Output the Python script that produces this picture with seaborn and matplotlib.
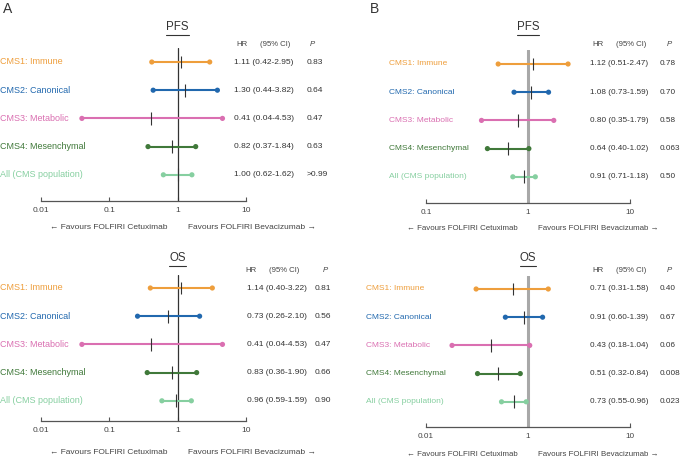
import numpy as np
import pandas as pd
import matplotlib.pyplot as plt
import matplotlib.transforms as mtransforms
from matplotlib.lines import Line2D
import seaborn as sns

sns.set_style('white')
plt.rcParams['font.family'] = ['Liberation Sans', 'DejaVu Sans']

# data ==========================================================================
groups = ['CMS1: Immune', 'CMS2: Canonical', 'CMS3: Metabolic', 'CMS4: Mesenchymal', 'All (CMS population)']
colors = ['#EE9E3C', '#2168AE', '#DA6FB1', '#40793A', '#86CFA0']

a_pfs_hr = [1.11, 1.30, 0.41, 0.82, 1.00]
a_pfs_lo = [0.42, 0.44, 0.04, 0.37, 0.62]
a_pfs_hi = [2.95, 3.82, 4.53, 1.84, 1.62]
a_pfs_p = ['0.83', '0.64', '0.47', '0.63', '>0.99']

a_os_hr = [1.14, 0.73, 0.41, 0.83, 0.96]
a_os_lo = [0.40, 0.26, 0.04, 0.36, 0.59]
a_os_hi = [3.22, 2.10, 4.53, 1.90, 1.59]
a_os_p = ['0.81', '0.56', '0.47', '0.66', '0.90']

b_pfs_hr = [1.12, 1.08, 0.80, 0.64, 0.91]
b_pfs_lo = [0.51, 0.73, 0.35, 0.40, 0.71]
b_pfs_hi = [2.47, 1.59, 1.79, 1.02, 1.18]
b_pfs_p = ['0.78', '0.70', '0.58', '0.063', '0.50']

b_os_hr = [0.71, 0.91, 0.43, 0.51, 0.73]
b_os_lo = [0.31, 0.60, 0.18, 0.32, 0.55]
b_os_hi = [1.58, 1.39, 1.04, 0.84, 0.96]
b_os_p = ['0.40', '0.67', '0.06', '0.008', '0.023']

a_ticks = [0.01, 0.1, 1, 10]
a_ticklabels = ['0.01', '0.1', '1', '10']
b_pfs_ticks = [0.1, 1, 10]
b_pfs_ticklabels = ['0.1', '1', '10']
b_os_ticks = [0.1, 1, 10]
b_os_ticklabels = ['0.01', '1', '10']

W, H = 683, 457
fig = plt.figure(figsize=(W / 100, H / 100), dpi=100)
renderer = fig.canvas.get_renderer()


def fx(x):
    return x / W


def fy(y):
    return 1 - y / H


def forest(title, hr, lo, hi, p, ticks, ticklabels, left, right, top, axis_y, row0,
           lab_x, val_x, p_x, hdr_x, title_y, hdr_y, fav_y, ref_color, ref_lw,
           fs_lab, fs_val, fs_fav, step=28.2):
    ax = fig.add_axes([fx(left), fy(axis_y), (right - left) / W, (axis_y - top) / H])
    ax.set_xscale('log')
    ax.set_xlim(ticks[0], ticks[-1])
    ax.set_ylim((axis_y - row0) / step, (top - row0) / step)

    df = pd.DataFrame({'group': groups, 'hr': hr, 'lo': lo, 'hi': hi, 'row': range(len(groups))})
    ax.axvline(1, color=ref_color, lw=ref_lw, zorder=1)
    for i, r in df.iterrows():
        ax.hlines(r['row'], r['lo'], r['hi'], color=colors[i], lw=1.5, zorder=2)
        ax.vlines(r['hr'], r['row'] - 0.23, r['row'] + 0.23, color='#333333', lw=0.8, zorder=3)
    ends = pd.concat([df[['group', 'lo', 'row']].rename(columns={'lo': 'x'}),
                      df[['group', 'hi', 'row']].rename(columns={'hi': 'x'})])
    sns.scatterplot(data=ends, x='x', y='row', hue='group', palette=colors, s=14,
                    edgecolor='none', legend=False, ax=ax, zorder=4)

    for s in ['top', 'left', 'right']:
        ax.spines[s].set_visible(False)
    ax.spines['bottom'].set_color('#555555')
    ax.spines['bottom'].set_linewidth(0.9)
    ax.set_xticks(ticks)
    ax.set_xticklabels(ticklabels)
    ax.minorticks_off()
    ax.tick_params(axis='x', direction='in', length=3, width=0.8, color='#555555',
                   labelsize=fs_val, labelcolor='#444444', pad=4, bottom=True)
    ax.set_yticks([])
    ax.set_xlabel('')
    ax.set_ylabel('')

    tr = mtransforms.blended_transform_factory(fig.transFigure, ax.transData)
    for i in range(len(groups)):
        ax.text(fx(lab_x), i, groups[i], transform=tr, color=colors[i], fontsize=fs_lab,
                va='center', ha='left')
        ax.text(fx(val_x), i, f'{hr[i]:.2f} ({lo[i]:.2f}-{hi[i]:.2f})', transform=tr,
                color='#333333', fontsize=fs_val, va='center', ha='left')
        ax.text(fx(p_x), i, p[i], transform=tr, color='#333333', fontsize=fs_val,
                va='center', ha='left')

    xc = ax.transData.transform((1, 0))[0] / fig.bbox.width
    t = fig.text(xc, fy(title_y), title, fontsize=8.3, ha='center', va='center', color='#333333')
    bb = t.get_window_extent(renderer)
    uy = (bb.y0 - 1.5) / fig.bbox.height
    fig.add_artist(Line2D([bb.x0 / fig.bbox.width, bb.x1 / fig.bbox.width], [uy, uy],
                          transform=fig.transFigure, color='#333333', lw=0.8))
    fig.text(fx(hdr_x[0]), fy(hdr_y), 'HR', fontsize=5.6, ha='left', va='center', color='#444444')
    fig.text(fx(hdr_x[1]), fy(hdr_y), '(95% CI)', fontsize=5.6, ha='left', va='center', color='#444444')
    fig.text(fx(hdr_x[2]), fy(hdr_y), 'P', fontsize=5.6, ha='left', va='center', color='#444444',
             style='italic')
    fig.text(xc - fx(10), fy(fav_y), '\u2190 Favours FOLFIRI Cetuximab', fontsize=fs_fav,
             ha='right', va='center', color='#444444')
    fig.text(xc + fx(10), fy(fav_y), 'Favours FOLFIRI Bevacizumab \u2192', fontsize=fs_fav,
             ha='left', va='center', color='#444444')
    return ax


forest('PFS', a_pfs_hr, a_pfs_lo, a_pfs_hi, a_pfs_p, a_ticks, a_ticklabels,
       left=40.7, right=246, top=48, axis_y=201, row0=62,
       lab_x=0, val_x=234, p_x=307, hdr_x=(236, 260, 310), title_y=27, hdr_y=44, fav_y=227,
       ref_color='#333333', ref_lw=0.9, fs_lab=6.5, fs_val=6.0, fs_fav=6.0)
forest('OS', a_os_hr, a_os_lo, a_os_hi, a_os_p, a_ticks, a_ticklabels,
       left=40.7, right=246, top=275, axis_y=421, row0=288,
       lab_x=0, val_x=247, p_x=315, hdr_x=(245, 269, 323), title_y=258, hdr_y=271, fav_y=453,
       ref_color='#333333', ref_lw=0.9, fs_lab=6.5, fs_val=6.0, fs_fav=6.0)
forest('PFS', b_pfs_hr, b_pfs_lo, b_pfs_hi, b_pfs_p, b_pfs_ticks, b_pfs_ticklabels,
       left=426, right=630, top=50, axis_y=203, row0=64,
       lab_x=389, val_x=590, p_x=660, hdr_x=(592, 616, 667), title_y=27, hdr_y=44, fav_y=228,
       ref_color='#A8A8A8', ref_lw=2.2, fs_lab=6.0, fs_val=5.9, fs_fav=5.7)
forest('OS', b_os_hr, b_os_lo, b_os_hi, b_os_p, b_os_ticks, b_os_ticklabels,
       left=426, right=630, top=276, axis_y=427, row0=289,
       lab_x=366, val_x=590, p_x=660, hdr_x=(592, 616, 667), title_y=258, hdr_y=271, fav_y=454,
       ref_color='#A8A8A8', ref_lw=2.2, fs_lab=6.0, fs_val=5.9, fs_fav=5.7)

fig.text(fx(3), fy(9), 'A', fontsize=10, ha='left', va='center', color='#333333')
fig.text(fx(370), fy(9), 'B', fontsize=10, ha='left', va='center', color='#333333')

fig.savefig('out.png', dpi=100)
